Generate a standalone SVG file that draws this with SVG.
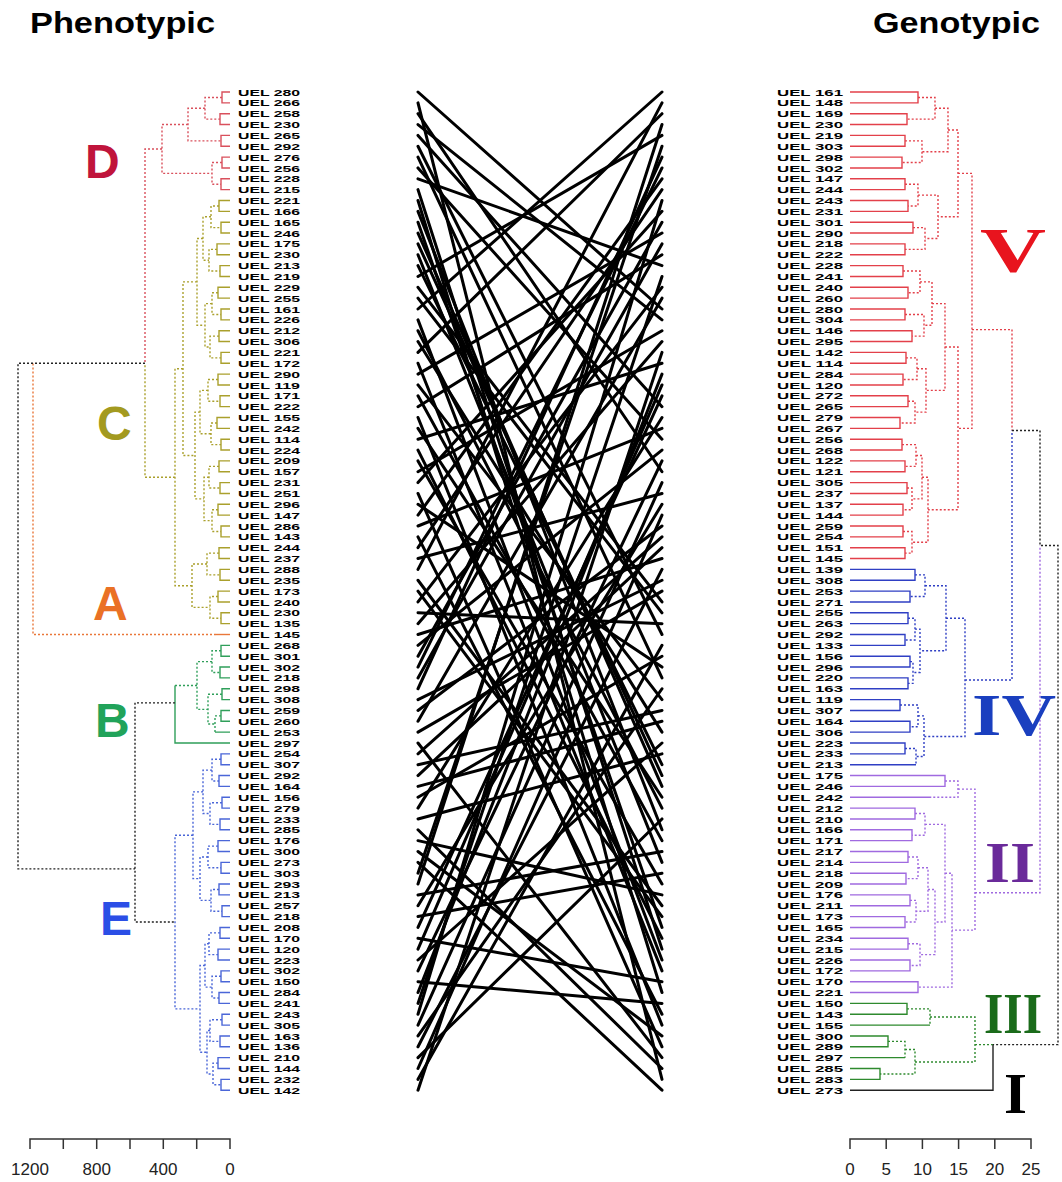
<svg xmlns="http://www.w3.org/2000/svg" width="1062" height="1182" viewBox="0 0 1062 1182">
<style>
.t{font-family:"Liberation Sans",Arial,sans-serif;font-weight:bold;font-size:30px;fill:#000}
.lb{font-family:"Liberation Sans",Arial,sans-serif;font-size:9.4px;fill:#000;font-weight:bold}
.re{text-anchor:end}
.cl{font-family:"Liberation Sans",Arial,sans-serif;font-weight:bold;font-size:48px}
.rn{font-family:"Liberation Serif","Times New Roman",serif;font-weight:bold}
.dg path{fill:none;vector-effect:non-scaling-stroke;stroke-width:1.4}
.dg path.dt{stroke-dasharray:2 2}
.mid line{stroke:#000;stroke-width:3;vector-effect:non-scaling-stroke;stroke-linecap:round}
.ax{stroke:#333;stroke-width:1.5;fill:none}
.an{font-family:"Liberation Sans",Arial,sans-serif;font-size:17px;fill:#222;text-anchor:middle}
.cD{stroke:#d9505c}.cC{stroke:#aaa02c}.cA{stroke:#e9773a}.cB{stroke:#2f9f5a}.cE{stroke:#4a66d8}.ck{stroke:#222}
.cV{stroke:#e3404a}.cIV{stroke:#2f3fc4}.cII{stroke:#a06ae0}.cIII{stroke:#2e8a2e}
</style>
<rect width="1062" height="1182" fill="#fff"/>
<g id="titles">
<text class="t" x="30" y="33" textLength="185" lengthAdjust="spacingAndGlyphs">Phenotypic</text>
<text class="t" x="873" y="33" textLength="167" lengthAdjust="spacingAndGlyphs">Genotypic</text>
</g>
<g id="left-dendrogram" class="dg" transform="translate(0 92) scale(1 10.85)">
<g id="cluster-D">
<path class="cD" d="M230 0H222V1H230M230 2H220V3H230M230 4H221V5H230M230 6H222V7H230M230 8H221V9H230"/>
<path class="cD dt" d="M222 0.5H205V2.5H220M205 1.5H188V4.5H221M222 6.5H212V8.5H221M188 3H162V7.5H212M162 5.25H145V25"/>
</g>
<g id="cluster-C">
<path class="cC" d="M230 10H219V11H230M230 12H221V13H230M230 14H217V15H230M230 16H220V17H230M230 18H218V19H230M230 20H221V21H230M230 22H219V23H230M230 24H221V25H230M230 26H218V27H230M230 28H220V29H230M230 30H217V31H230M230 32H221V33H230M230 34H219V35H230M230 36H220V37H230M230 38H218V39H230M230 40H221V41H230M230 42H219V43H230M230 44H220V45H230M230 46H218V47H230M230 48H221V49H230"/>
<path class="cC dt" d="M219 10.5H211V12.5H221M217 14.5H209V16.5H220M218 18.5H212V20.5H221M219 22.5H210V24.5H221M218 26.5H208V28.5H220M217 30.5H211V32.5H221M219 34.5H209V36.5H220M218 38.5H212V40.5H221M219 42.5H207V44.5H220M218 46.5H210V48.5H221M211 11.5H203V15.5H209M212 19.5H205V23.5H210M208 27.5H200V31.5H211M209 35.5H204V39.5H212M207 43.5H192V47.5H210M203 13.5H197V21.5H205M200 29.5H195V37.5H204M197 17.5H183V33.5H195M183 25.5H175V45.5H192M175 35.5H145V25"/>
</g>
<g id="cluster-A">
<path class="cA" d="M230 50H216"/>
<path class="cA dt" d="M216 50H33V25"/>
</g>
<g id="cluster-B">
<path class="cB" d="M230 51H221V52H230M230 53H220V54H230M230 55H222V56H230M230 57H221V58H230M230 59H215M175 54.7V60H230"/>
<path class="cB dt" d="M221 51.5H212V53.5H220M221 57.5H215V59M222 55.5H208V58.25H215M212 52.5H197V56.9H208M197 54.7H175"/>
</g>
<g id="cluster-E">
<path class="cE" d="M230 61H221V62H230M230 63H219V64H230M230 65H222V66H230M230 67H220V68H230M230 69H218V70H230M230 71H221V72H230M230 73H219V74H230M230 75H222V76H230M230 77H220V78H230M230 79H218V80H230M230 81H221V82H230M230 83H219V84H230M230 85H222V86H230M230 87H220V88H230M230 89H218V90H230M230 91H221V92H230"/>
<path class="cE dt" d="M221 61.5H212V63.5H219M222 65.5H210V67.5H220M218 69.5H208V71.5H221M219 73.5H211V75.5H222M220 77.5H209V79.5H218M221 81.5H212V83.5H219M222 85.5H210V87.5H220M218 89.5H213V91.5H221M212 62.5H203V66.5H210M208 70.5H200V74.5H211M209 78.5H205V82.5H212M210 86.5H207V90.5H213M203 64.5H193V72.5H200M205 80.5H200V88.5H207M193 68.5H175V84.5H200"/>
</g>
<g id="left-root">
<path class="ck dt" d="M145 25H18V71.6H135M175 56.3H135V76.5H175"/>
</g>
</g>
<g id="right-dendrogram" class="dg" transform="translate(0 92) scale(1 10.85)">
<g id="cluster-V">
<path class="cV" d="M850 0H918V1H850M850 2H907V3H850M850 4H905V5H850M850 6H902V7H850M850 8H905V9H850M850 10H908V11H850M850 12H913V13H850M850 14H905V15H850M850 16H903V17H850M850 18H908V19H850M850 20H905V21H850M850 22H912V23H850M850 24H906V25H850M850 26H903V27H850M850 28H908V29H850M850 30H900V31H850M850 32H902V33H850M850 34H905V35H850M850 36H907V37H850M850 38H903V39H850M850 40H903V41H850M850 42H905V43H850"/>
<path class="cV dt" d="M918 0.5H935V2.5H907M905 4.5H922V6.5H902M905 8.5H918V10.5H908M913 12.5H925V14.5H905M903 16.5H920V18.5H908M905 20.5H924V22.5H912M906 24.5H917V26.5H903M908 28.5H915V30.5H900M902 32.5H916V34.5H905M907 36.5H912V38.5H903M903 40.5H912V42.5H905M935 1.5H948V5.5H922M918 9.5H938V13.5H925M920 17.5H932V21.5H924M917 25.5H926V29.5H915M916 33.5H922V37.5H912M948 3.5H958V11.5H938M932 19.5H945V27.5H926M922 35.5H928V41.5H912M945 23.5H958V38.5H928M958 7.5H972V31H958M972 21.9H1012V31.2"/>
</g>
<g id="cluster-IV">
<path class="cIV" d="M850 44H915V45H850M850 46H910V47H850M850 48H908V49H850M850 50H905V51H850M850 52H910V53H850M850 54H908V55H850M850 56H900V57H850M850 58H910V59H850M850 60H905V61H850M850 62H916"/>
<path class="cIV dt" d="M915 44.5H925V46.5H910M908 48.5H915V50.5H905M910 52.5H913V54.5H908M915 49.5H920V53.5H913M900 56.5H918V58.5H910M905 60.5H916V62M918 57.5H924V61.25H916M925 45.5H946V51.5H920M946 48.5H965V59.4H924M965 54.2H1012V31.2"/>
</g>
<g id="cluster-II">
<path class="cII" d="M850 63H945V64H850M850 65H930M850 66H915V67H850M850 68H912V69H850M850 70H908V71H850M850 72H906V73H850M850 74H910V75H850M850 76H905V77H850M850 78H908V79H850M850 80H910V81H850M850 82H918V83H850"/>
<path class="cII dt" d="M945 63.5H958V65H930M915 66.5H925V68.5H912M908 70.5H918V72.5H906M910 74.5H916V76.5H905M908 78.5H920V80.5H910M918 71.5H928V75.5H916M928 73.5H935V79.5H920M925 67.5H945V76.5H935M945 72H952V82.5H918M958 64.25H975V77.25H952M975 73.8H1040V41.8"/>
</g>
<g id="cluster-III">
<path class="cIII" d="M850 84H907V85H850M850 86H930M850 87H888V88H850M850 89H905M850 90H880V91H850"/>
<path class="cIII dt" d="M907 84.5H930V86M888 87.5H905V89M905 88.25H915V90.5H880M930 85.25H975V89.4H915M975 87.8H993"/>
</g>
<g id="cluster-I">
<path class="ck" d="M850 92H993V87.8"/>
</g>
<g id="right-root">
<path class="ck dt" d="M1012 31.2H1040V41.8H1058V87.8H993"/>
</g>
</g>
<g id="cluster-labels">
<text class="cl" x="85" y="178" fill="#c0143c">D</text>
<text class="cl" x="97" y="440" fill="#a39a20">C</text>
<text class="cl" x="93" y="620" fill="#ea7125">A</text>
<text class="cl" x="95" y="737" fill="#21a35a">B</text>
<text class="cl" x="100" y="935" fill="#2b4ee6">E</text>
<text class="rn" x="980" y="272" font-size="64" fill="#e8141e" textLength="66" lengthAdjust="spacingAndGlyphs">V</text>
<text class="rn" x="972" y="735" font-size="60" fill="#1a3fbf" textLength="84" lengthAdjust="spacingAndGlyphs">IV</text>
<text class="rn" x="985" y="882" font-size="56" fill="#6a2a9a" textLength="50" lengthAdjust="spacingAndGlyphs">II</text>
<text class="rn" x="984" y="1033" font-size="57" fill="#1a6b1a" textLength="58" lengthAdjust="spacingAndGlyphs">III</text>
<text class="rn" x="1004" y="1113" font-size="57" fill="#000" textLength="23" lengthAdjust="spacingAndGlyphs">I</text>
</g>
<g id="left-labels">
<text class="lb" x="238" y="95.5" textLength="62" lengthAdjust="spacingAndGlyphs">UEL 280</text>
<text class="lb" x="238" y="106.4" textLength="62" lengthAdjust="spacingAndGlyphs">UEL 266</text>
<text class="lb" x="238" y="117.2" textLength="62" lengthAdjust="spacingAndGlyphs">UEL 258</text>
<text class="lb" x="238" y="128.1" textLength="62" lengthAdjust="spacingAndGlyphs">UEL 230</text>
<text class="lb" x="238" y="138.9" textLength="62" lengthAdjust="spacingAndGlyphs">UEL 265</text>
<text class="lb" x="238" y="149.8" textLength="62" lengthAdjust="spacingAndGlyphs">UEL 292</text>
<text class="lb" x="238" y="160.6" textLength="62" lengthAdjust="spacingAndGlyphs">UEL 276</text>
<text class="lb" x="238" y="171.5" textLength="62" lengthAdjust="spacingAndGlyphs">UEL 256</text>
<text class="lb" x="238" y="182.3" textLength="62" lengthAdjust="spacingAndGlyphs">UEL 228</text>
<text class="lb" x="238" y="193.2" textLength="62" lengthAdjust="spacingAndGlyphs">UEL 215</text>
<text class="lb" x="238" y="204" textLength="62" lengthAdjust="spacingAndGlyphs">UEL 221</text>
<text class="lb" x="238" y="214.9" textLength="62" lengthAdjust="spacingAndGlyphs">UEL 166</text>
<text class="lb" x="238" y="225.7" textLength="62" lengthAdjust="spacingAndGlyphs">UEL 165</text>
<text class="lb" x="238" y="236.6" textLength="62" lengthAdjust="spacingAndGlyphs">UEL 246</text>
<text class="lb" x="238" y="247.4" textLength="62" lengthAdjust="spacingAndGlyphs">UEL 175</text>
<text class="lb" x="238" y="258.3" textLength="62" lengthAdjust="spacingAndGlyphs">UEL 230</text>
<text class="lb" x="238" y="269.1" textLength="62" lengthAdjust="spacingAndGlyphs">UEL 213</text>
<text class="lb" x="238" y="280" textLength="62" lengthAdjust="spacingAndGlyphs">UEL 219</text>
<text class="lb" x="238" y="290.8" textLength="62" lengthAdjust="spacingAndGlyphs">UEL 229</text>
<text class="lb" x="238" y="301.7" textLength="62" lengthAdjust="spacingAndGlyphs">UEL 255</text>
<text class="lb" x="238" y="312.5" textLength="62" lengthAdjust="spacingAndGlyphs">UEL 161</text>
<text class="lb" x="238" y="323.4" textLength="62" lengthAdjust="spacingAndGlyphs">UEL 226</text>
<text class="lb" x="238" y="334.2" textLength="62" lengthAdjust="spacingAndGlyphs">UEL 212</text>
<text class="lb" x="238" y="345.1" textLength="62" lengthAdjust="spacingAndGlyphs">UEL 306</text>
<text class="lb" x="238" y="355.9" textLength="62" lengthAdjust="spacingAndGlyphs">UEL 221</text>
<text class="lb" x="238" y="366.8" textLength="62" lengthAdjust="spacingAndGlyphs">UEL 172</text>
<text class="lb" x="238" y="377.6" textLength="62" lengthAdjust="spacingAndGlyphs">UEL 290</text>
<text class="lb" x="238" y="388.5" textLength="62" lengthAdjust="spacingAndGlyphs">UEL 119</text>
<text class="lb" x="238" y="399.3" textLength="62" lengthAdjust="spacingAndGlyphs">UEL 171</text>
<text class="lb" x="238" y="410.2" textLength="62" lengthAdjust="spacingAndGlyphs">UEL 222</text>
<text class="lb" x="238" y="421" textLength="62" lengthAdjust="spacingAndGlyphs">UEL 155</text>
<text class="lb" x="238" y="431.9" textLength="62" lengthAdjust="spacingAndGlyphs">UEL 242</text>
<text class="lb" x="238" y="442.7" textLength="62" lengthAdjust="spacingAndGlyphs">UEL 114</text>
<text class="lb" x="238" y="453.6" textLength="62" lengthAdjust="spacingAndGlyphs">UEL 224</text>
<text class="lb" x="238" y="464.4" textLength="62" lengthAdjust="spacingAndGlyphs">UEL 209</text>
<text class="lb" x="238" y="475.3" textLength="62" lengthAdjust="spacingAndGlyphs">UEL 157</text>
<text class="lb" x="238" y="486.1" textLength="62" lengthAdjust="spacingAndGlyphs">UEL 231</text>
<text class="lb" x="238" y="497" textLength="62" lengthAdjust="spacingAndGlyphs">UEL 251</text>
<text class="lb" x="238" y="507.8" textLength="62" lengthAdjust="spacingAndGlyphs">UEL 296</text>
<text class="lb" x="238" y="518.7" textLength="62" lengthAdjust="spacingAndGlyphs">UEL 147</text>
<text class="lb" x="238" y="529.5" textLength="62" lengthAdjust="spacingAndGlyphs">UEL 286</text>
<text class="lb" x="238" y="540.4" textLength="62" lengthAdjust="spacingAndGlyphs">UEL 143</text>
<text class="lb" x="238" y="551.2" textLength="62" lengthAdjust="spacingAndGlyphs">UEL 244</text>
<text class="lb" x="238" y="562.1" textLength="62" lengthAdjust="spacingAndGlyphs">UEL 237</text>
<text class="lb" x="238" y="572.9" textLength="62" lengthAdjust="spacingAndGlyphs">UEL 288</text>
<text class="lb" x="238" y="583.8" textLength="62" lengthAdjust="spacingAndGlyphs">UEL 235</text>
<text class="lb" x="238" y="594.6" textLength="62" lengthAdjust="spacingAndGlyphs">UEL 173</text>
<text class="lb" x="238" y="605.5" textLength="62" lengthAdjust="spacingAndGlyphs">UEL 240</text>
<text class="lb" x="238" y="616.3" textLength="62" lengthAdjust="spacingAndGlyphs">UEL 230</text>
<text class="lb" x="238" y="627.2" textLength="62" lengthAdjust="spacingAndGlyphs">UEL 135</text>
<text class="lb" x="238" y="638" textLength="62" lengthAdjust="spacingAndGlyphs">UEL 145</text>
<text class="lb" x="238" y="648.9" textLength="62" lengthAdjust="spacingAndGlyphs">UEL 268</text>
<text class="lb" x="238" y="659.7" textLength="62" lengthAdjust="spacingAndGlyphs">UEL 301</text>
<text class="lb" x="238" y="670.6" textLength="62" lengthAdjust="spacingAndGlyphs">UEL 302</text>
<text class="lb" x="238" y="681.4" textLength="62" lengthAdjust="spacingAndGlyphs">UEL 218</text>
<text class="lb" x="238" y="692.3" textLength="62" lengthAdjust="spacingAndGlyphs">UEL 298</text>
<text class="lb" x="238" y="703.1" textLength="62" lengthAdjust="spacingAndGlyphs">UEL 308</text>
<text class="lb" x="238" y="714" textLength="62" lengthAdjust="spacingAndGlyphs">UEL 259</text>
<text class="lb" x="238" y="724.8" textLength="62" lengthAdjust="spacingAndGlyphs">UEL 260</text>
<text class="lb" x="238" y="735.7" textLength="62" lengthAdjust="spacingAndGlyphs">UEL 253</text>
<text class="lb" x="238" y="746.5" textLength="62" lengthAdjust="spacingAndGlyphs">UEL 297</text>
<text class="lb" x="238" y="757.4" textLength="62" lengthAdjust="spacingAndGlyphs">UEL 254</text>
<text class="lb" x="238" y="768.2" textLength="62" lengthAdjust="spacingAndGlyphs">UEL 307</text>
<text class="lb" x="238" y="779.1" textLength="62" lengthAdjust="spacingAndGlyphs">UEL 292</text>
<text class="lb" x="238" y="789.9" textLength="62" lengthAdjust="spacingAndGlyphs">UEL 164</text>
<text class="lb" x="238" y="800.8" textLength="62" lengthAdjust="spacingAndGlyphs">UEL 156</text>
<text class="lb" x="238" y="811.6" textLength="62" lengthAdjust="spacingAndGlyphs">UEL 279</text>
<text class="lb" x="238" y="822.5" textLength="62" lengthAdjust="spacingAndGlyphs">UEL 233</text>
<text class="lb" x="238" y="833.3" textLength="62" lengthAdjust="spacingAndGlyphs">UEL 285</text>
<text class="lb" x="238" y="844.2" textLength="62" lengthAdjust="spacingAndGlyphs">UEL 176</text>
<text class="lb" x="238" y="855" textLength="62" lengthAdjust="spacingAndGlyphs">UEL 300</text>
<text class="lb" x="238" y="865.9" textLength="62" lengthAdjust="spacingAndGlyphs">UEL 273</text>
<text class="lb" x="238" y="876.7" textLength="62" lengthAdjust="spacingAndGlyphs">UEL 303</text>
<text class="lb" x="238" y="887.6" textLength="62" lengthAdjust="spacingAndGlyphs">UEL 293</text>
<text class="lb" x="238" y="898.4" textLength="62" lengthAdjust="spacingAndGlyphs">UEL 213</text>
<text class="lb" x="238" y="909.3" textLength="62" lengthAdjust="spacingAndGlyphs">UEL 257</text>
<text class="lb" x="238" y="920.1" textLength="62" lengthAdjust="spacingAndGlyphs">UEL 218</text>
<text class="lb" x="238" y="931" textLength="62" lengthAdjust="spacingAndGlyphs">UEL 208</text>
<text class="lb" x="238" y="941.8" textLength="62" lengthAdjust="spacingAndGlyphs">UEL 170</text>
<text class="lb" x="238" y="952.7" textLength="62" lengthAdjust="spacingAndGlyphs">UEL 120</text>
<text class="lb" x="238" y="963.5" textLength="62" lengthAdjust="spacingAndGlyphs">UEL 223</text>
<text class="lb" x="238" y="974.4" textLength="62" lengthAdjust="spacingAndGlyphs">UEL 302</text>
<text class="lb" x="238" y="985.2" textLength="62" lengthAdjust="spacingAndGlyphs">UEL 150</text>
<text class="lb" x="238" y="996.1" textLength="62" lengthAdjust="spacingAndGlyphs">UEL 284</text>
<text class="lb" x="238" y="1006.9" textLength="62" lengthAdjust="spacingAndGlyphs">UEL 241</text>
<text class="lb" x="238" y="1017.8" textLength="62" lengthAdjust="spacingAndGlyphs">UEL 243</text>
<text class="lb" x="238" y="1028.6" textLength="62" lengthAdjust="spacingAndGlyphs">UEL 305</text>
<text class="lb" x="238" y="1039.5" textLength="62" lengthAdjust="spacingAndGlyphs">UEL 163</text>
<text class="lb" x="238" y="1050.3" textLength="62" lengthAdjust="spacingAndGlyphs">UEL 136</text>
<text class="lb" x="238" y="1061.2" textLength="62" lengthAdjust="spacingAndGlyphs">UEL 210</text>
<text class="lb" x="238" y="1072" textLength="62" lengthAdjust="spacingAndGlyphs">UEL 144</text>
<text class="lb" x="238" y="1082.9" textLength="62" lengthAdjust="spacingAndGlyphs">UEL 232</text>
<text class="lb" x="238" y="1093.7" textLength="62" lengthAdjust="spacingAndGlyphs">UEL 142</text>
</g>
<g id="right-labels">
<text class="lb re" x="843" y="95.5" textLength="66" lengthAdjust="spacingAndGlyphs">UEL 161</text>
<text class="lb re" x="843" y="106.4" textLength="66" lengthAdjust="spacingAndGlyphs">UEL 148</text>
<text class="lb re" x="843" y="117.2" textLength="66" lengthAdjust="spacingAndGlyphs">UEL 169</text>
<text class="lb re" x="843" y="128.1" textLength="66" lengthAdjust="spacingAndGlyphs">UEL 230</text>
<text class="lb re" x="843" y="138.9" textLength="66" lengthAdjust="spacingAndGlyphs">UEL 219</text>
<text class="lb re" x="843" y="149.8" textLength="66" lengthAdjust="spacingAndGlyphs">UEL 303</text>
<text class="lb re" x="843" y="160.6" textLength="66" lengthAdjust="spacingAndGlyphs">UEL 298</text>
<text class="lb re" x="843" y="171.5" textLength="66" lengthAdjust="spacingAndGlyphs">UEL 302</text>
<text class="lb re" x="843" y="182.3" textLength="66" lengthAdjust="spacingAndGlyphs">UEL 147</text>
<text class="lb re" x="843" y="193.2" textLength="66" lengthAdjust="spacingAndGlyphs">UEL 244</text>
<text class="lb re" x="843" y="204" textLength="66" lengthAdjust="spacingAndGlyphs">UEL 243</text>
<text class="lb re" x="843" y="214.9" textLength="66" lengthAdjust="spacingAndGlyphs">UEL 231</text>
<text class="lb re" x="843" y="225.7" textLength="66" lengthAdjust="spacingAndGlyphs">UEL 301</text>
<text class="lb re" x="843" y="236.6" textLength="66" lengthAdjust="spacingAndGlyphs">UEL 290</text>
<text class="lb re" x="843" y="247.4" textLength="66" lengthAdjust="spacingAndGlyphs">UEL 218</text>
<text class="lb re" x="843" y="258.3" textLength="66" lengthAdjust="spacingAndGlyphs">UEL 222</text>
<text class="lb re" x="843" y="269.1" textLength="66" lengthAdjust="spacingAndGlyphs">UEL 228</text>
<text class="lb re" x="843" y="280" textLength="66" lengthAdjust="spacingAndGlyphs">UEL 241</text>
<text class="lb re" x="843" y="290.8" textLength="66" lengthAdjust="spacingAndGlyphs">UEL 240</text>
<text class="lb re" x="843" y="301.7" textLength="66" lengthAdjust="spacingAndGlyphs">UEL 260</text>
<text class="lb re" x="843" y="312.5" textLength="66" lengthAdjust="spacingAndGlyphs">UEL 280</text>
<text class="lb re" x="843" y="323.4" textLength="66" lengthAdjust="spacingAndGlyphs">UEL 304</text>
<text class="lb re" x="843" y="334.2" textLength="66" lengthAdjust="spacingAndGlyphs">UEL 146</text>
<text class="lb re" x="843" y="345.1" textLength="66" lengthAdjust="spacingAndGlyphs">UEL 295</text>
<text class="lb re" x="843" y="355.9" textLength="66" lengthAdjust="spacingAndGlyphs">UEL 142</text>
<text class="lb re" x="843" y="366.8" textLength="66" lengthAdjust="spacingAndGlyphs">UEL 114</text>
<text class="lb re" x="843" y="377.6" textLength="66" lengthAdjust="spacingAndGlyphs">UEL 284</text>
<text class="lb re" x="843" y="388.5" textLength="66" lengthAdjust="spacingAndGlyphs">UEL 120</text>
<text class="lb re" x="843" y="399.3" textLength="66" lengthAdjust="spacingAndGlyphs">UEL 272</text>
<text class="lb re" x="843" y="410.2" textLength="66" lengthAdjust="spacingAndGlyphs">UEL 265</text>
<text class="lb re" x="843" y="421" textLength="66" lengthAdjust="spacingAndGlyphs">UEL 279</text>
<text class="lb re" x="843" y="431.9" textLength="66" lengthAdjust="spacingAndGlyphs">UEL 267</text>
<text class="lb re" x="843" y="442.7" textLength="66" lengthAdjust="spacingAndGlyphs">UEL 256</text>
<text class="lb re" x="843" y="453.6" textLength="66" lengthAdjust="spacingAndGlyphs">UEL 268</text>
<text class="lb re" x="843" y="464.4" textLength="66" lengthAdjust="spacingAndGlyphs">UEL 122</text>
<text class="lb re" x="843" y="475.3" textLength="66" lengthAdjust="spacingAndGlyphs">UEL 121</text>
<text class="lb re" x="843" y="486.1" textLength="66" lengthAdjust="spacingAndGlyphs">UEL 305</text>
<text class="lb re" x="843" y="497" textLength="66" lengthAdjust="spacingAndGlyphs">UEL 237</text>
<text class="lb re" x="843" y="507.8" textLength="66" lengthAdjust="spacingAndGlyphs">UEL 137</text>
<text class="lb re" x="843" y="518.7" textLength="66" lengthAdjust="spacingAndGlyphs">UEL 144</text>
<text class="lb re" x="843" y="529.5" textLength="66" lengthAdjust="spacingAndGlyphs">UEL 259</text>
<text class="lb re" x="843" y="540.4" textLength="66" lengthAdjust="spacingAndGlyphs">UEL 254</text>
<text class="lb re" x="843" y="551.2" textLength="66" lengthAdjust="spacingAndGlyphs">UEL 151</text>
<text class="lb re" x="843" y="562.1" textLength="66" lengthAdjust="spacingAndGlyphs">UEL 145</text>
<text class="lb re" x="843" y="572.9" textLength="66" lengthAdjust="spacingAndGlyphs">UEL 139</text>
<text class="lb re" x="843" y="583.8" textLength="66" lengthAdjust="spacingAndGlyphs">UEL 308</text>
<text class="lb re" x="843" y="594.6" textLength="66" lengthAdjust="spacingAndGlyphs">UEL 253</text>
<text class="lb re" x="843" y="605.5" textLength="66" lengthAdjust="spacingAndGlyphs">UEL 271</text>
<text class="lb re" x="843" y="616.3" textLength="66" lengthAdjust="spacingAndGlyphs">UEL 255</text>
<text class="lb re" x="843" y="627.2" textLength="66" lengthAdjust="spacingAndGlyphs">UEL 263</text>
<text class="lb re" x="843" y="638" textLength="66" lengthAdjust="spacingAndGlyphs">UEL 292</text>
<text class="lb re" x="843" y="648.9" textLength="66" lengthAdjust="spacingAndGlyphs">UEL 133</text>
<text class="lb re" x="843" y="659.7" textLength="66" lengthAdjust="spacingAndGlyphs">UEL 156</text>
<text class="lb re" x="843" y="670.6" textLength="66" lengthAdjust="spacingAndGlyphs">UEL 296</text>
<text class="lb re" x="843" y="681.4" textLength="66" lengthAdjust="spacingAndGlyphs">UEL 220</text>
<text class="lb re" x="843" y="692.3" textLength="66" lengthAdjust="spacingAndGlyphs">UEL 163</text>
<text class="lb re" x="843" y="703.1" textLength="66" lengthAdjust="spacingAndGlyphs">UEL 119</text>
<text class="lb re" x="843" y="714" textLength="66" lengthAdjust="spacingAndGlyphs">UEL 307</text>
<text class="lb re" x="843" y="724.8" textLength="66" lengthAdjust="spacingAndGlyphs">UEL 164</text>
<text class="lb re" x="843" y="735.7" textLength="66" lengthAdjust="spacingAndGlyphs">UEL 306</text>
<text class="lb re" x="843" y="746.5" textLength="66" lengthAdjust="spacingAndGlyphs">UEL 223</text>
<text class="lb re" x="843" y="757.4" textLength="66" lengthAdjust="spacingAndGlyphs">UEL 233</text>
<text class="lb re" x="843" y="768.2" textLength="66" lengthAdjust="spacingAndGlyphs">UEL 213</text>
<text class="lb re" x="843" y="779.1" textLength="66" lengthAdjust="spacingAndGlyphs">UEL 175</text>
<text class="lb re" x="843" y="789.9" textLength="66" lengthAdjust="spacingAndGlyphs">UEL 246</text>
<text class="lb re" x="843" y="800.8" textLength="66" lengthAdjust="spacingAndGlyphs">UEL 242</text>
<text class="lb re" x="843" y="811.6" textLength="66" lengthAdjust="spacingAndGlyphs">UEL 212</text>
<text class="lb re" x="843" y="822.5" textLength="66" lengthAdjust="spacingAndGlyphs">UEL 210</text>
<text class="lb re" x="843" y="833.3" textLength="66" lengthAdjust="spacingAndGlyphs">UEL 166</text>
<text class="lb re" x="843" y="844.2" textLength="66" lengthAdjust="spacingAndGlyphs">UEL 171</text>
<text class="lb re" x="843" y="855" textLength="66" lengthAdjust="spacingAndGlyphs">UEL 217</text>
<text class="lb re" x="843" y="865.9" textLength="66" lengthAdjust="spacingAndGlyphs">UEL 214</text>
<text class="lb re" x="843" y="876.7" textLength="66" lengthAdjust="spacingAndGlyphs">UEL 218</text>
<text class="lb re" x="843" y="887.6" textLength="66" lengthAdjust="spacingAndGlyphs">UEL 209</text>
<text class="lb re" x="843" y="898.4" textLength="66" lengthAdjust="spacingAndGlyphs">UEL 176</text>
<text class="lb re" x="843" y="909.3" textLength="66" lengthAdjust="spacingAndGlyphs">UEL 211</text>
<text class="lb re" x="843" y="920.1" textLength="66" lengthAdjust="spacingAndGlyphs">UEL 173</text>
<text class="lb re" x="843" y="931" textLength="66" lengthAdjust="spacingAndGlyphs">UEL 165</text>
<text class="lb re" x="843" y="941.8" textLength="66" lengthAdjust="spacingAndGlyphs">UEL 234</text>
<text class="lb re" x="843" y="952.7" textLength="66" lengthAdjust="spacingAndGlyphs">UEL 215</text>
<text class="lb re" x="843" y="963.5" textLength="66" lengthAdjust="spacingAndGlyphs">UEL 226</text>
<text class="lb re" x="843" y="974.4" textLength="66" lengthAdjust="spacingAndGlyphs">UEL 172</text>
<text class="lb re" x="843" y="985.2" textLength="66" lengthAdjust="spacingAndGlyphs">UEL 170</text>
<text class="lb re" x="843" y="996.1" textLength="66" lengthAdjust="spacingAndGlyphs">UEL 221</text>
<text class="lb re" x="843" y="1006.9" textLength="66" lengthAdjust="spacingAndGlyphs">UEL 150</text>
<text class="lb re" x="843" y="1017.8" textLength="66" lengthAdjust="spacingAndGlyphs">UEL 143</text>
<text class="lb re" x="843" y="1028.6" textLength="66" lengthAdjust="spacingAndGlyphs">UEL 155</text>
<text class="lb re" x="843" y="1039.5" textLength="66" lengthAdjust="spacingAndGlyphs">UEL 300</text>
<text class="lb re" x="843" y="1050.3" textLength="66" lengthAdjust="spacingAndGlyphs">UEL 289</text>
<text class="lb re" x="843" y="1061.2" textLength="66" lengthAdjust="spacingAndGlyphs">UEL 297</text>
<text class="lb re" x="843" y="1072" textLength="66" lengthAdjust="spacingAndGlyphs">UEL 285</text>
<text class="lb re" x="843" y="1082.9" textLength="66" lengthAdjust="spacingAndGlyphs">UEL 283</text>
<text class="lb re" x="843" y="1093.7" textLength="66" lengthAdjust="spacingAndGlyphs">UEL 273</text>
</g>
<g id="connectors" class="mid" transform="translate(0 92) scale(1 10.85)">
<line x1="418" y1="0" x2="662" y2="20"/><line x1="418" y1="1" x2="662" y2="91"/><line x1="418" y1="2" x2="662" y2="35"/><line x1="418" y1="3" x2="662" y2="21"/><line x1="418" y1="4" x2="662" y2="29"/><line x1="418" y1="5" x2="662" y2="50"/><line x1="418" y1="6" x2="662" y2="54"/><line x1="418" y1="7" x2="662" y2="32"/><line x1="418" y1="8" x2="662" y2="16"/><line x1="418" y1="9" x2="662" y2="79"/>
<line x1="418" y1="10" x2="662" y2="83"/><line x1="418" y1="11" x2="662" y2="68"/><line x1="418" y1="12" x2="662" y2="77"/><line x1="418" y1="13" x2="662" y2="64"/><line x1="418" y1="14" x2="662" y2="63"/><line x1="418" y1="15" x2="662" y2="71"/><line x1="418" y1="16" x2="662" y2="62"/><line x1="418" y1="17" x2="662" y2="4"/><line x1="418" y1="18" x2="662" y2="47"/><line x1="418" y1="19" x2="662" y2="48"/>
<line x1="418" y1="20" x2="662" y2="0"/><line x1="418" y1="21" x2="662" y2="80"/><line x1="418" y1="22" x2="662" y2="66"/><line x1="418" y1="23" x2="662" y2="59"/><line x1="418" y1="24" x2="662" y2="2"/><line x1="418" y1="25" x2="662" y2="81"/><line x1="418" y1="26" x2="662" y2="13"/><line x1="418" y1="27" x2="662" y2="56"/><line x1="418" y1="28" x2="662" y2="69"/><line x1="418" y1="29" x2="662" y2="15"/>
<line x1="418" y1="30" x2="662" y2="86"/><line x1="418" y1="31" x2="662" y2="65"/><line x1="418" y1="32" x2="662" y2="25"/><line x1="418" y1="33" x2="662" y2="78"/><line x1="418" y1="34" x2="662" y2="73"/><line x1="418" y1="35" x2="662" y2="22"/><line x1="418" y1="36" x2="662" y2="11"/><line x1="418" y1="37" x2="662" y2="88"/><line x1="418" y1="38" x2="662" y2="53"/><line x1="418" y1="39" x2="662" y2="8"/>
<line x1="418" y1="40" x2="662" y2="31"/><line x1="418" y1="41" x2="662" y2="85"/><line x1="418" y1="42" x2="662" y2="9"/><line x1="418" y1="43" x2="662" y2="37"/><line x1="418" y1="44" x2="662" y2="1"/><line x1="418" y1="45" x2="662" y2="75"/><line x1="418" y1="46" x2="662" y2="76"/><line x1="418" y1="47" x2="662" y2="18"/><line x1="418" y1="48" x2="662" y2="49"/><line x1="418" y1="49" x2="662" y2="23"/>
<line x1="418" y1="50" x2="662" y2="43"/><line x1="418" y1="51" x2="662" y2="33"/><line x1="418" y1="52" x2="662" y2="12"/><line x1="418" y1="53" x2="662" y2="7"/><line x1="418" y1="54" x2="662" y2="14"/><line x1="418" y1="55" x2="662" y2="6"/><line x1="418" y1="56" x2="662" y2="45"/><line x1="418" y1="57" x2="662" y2="40"/><line x1="418" y1="58" x2="662" y2="19"/><line x1="418" y1="59" x2="662" y2="46"/>
<line x1="418" y1="60" x2="662" y2="89"/><line x1="418" y1="61" x2="662" y2="41"/><line x1="418" y1="62" x2="662" y2="57"/><line x1="418" y1="63" x2="662" y2="42"/><line x1="418" y1="64" x2="662" y2="58"/><line x1="418" y1="65" x2="662" y2="52"/><line x1="418" y1="66" x2="662" y2="30"/><line x1="418" y1="67" x2="662" y2="61"/><line x1="418" y1="68" x2="662" y2="90"/><line x1="418" y1="69" x2="662" y2="74"/>
<line x1="418" y1="70" x2="662" y2="87"/><line x1="418" y1="71" x2="662" y2="92"/><line x1="418" y1="72" x2="662" y2="5"/><line x1="418" y1="73" x2="662" y2="3"/><line x1="418" y1="74" x2="662" y2="70"/><line x1="418" y1="75" x2="662" y2="38"/><line x1="418" y1="76" x2="662" y2="72"/><line x1="418" y1="77" x2="662" y2="28"/><line x1="418" y1="78" x2="662" y2="82"/><line x1="418" y1="79" x2="662" y2="27"/>
<line x1="418" y1="80" x2="662" y2="60"/><line x1="418" y1="81" x2="662" y2="34"/><line x1="418" y1="82" x2="662" y2="84"/><line x1="418" y1="83" x2="662" y2="26"/><line x1="418" y1="84" x2="662" y2="17"/><line x1="418" y1="85" x2="662" y2="10"/><line x1="418" y1="86" x2="662" y2="36"/><line x1="418" y1="87" x2="662" y2="55"/><line x1="418" y1="88" x2="662" y2="44"/><line x1="418" y1="89" x2="662" y2="67"/>
<line x1="418" y1="90" x2="662" y2="39"/><line x1="418" y1="91" x2="662" y2="51"/><line x1="418" y1="92" x2="662" y2="24"/>
</g>
<g id="axis-left">
<path class="ax" d="M30 1149V1139H230V1149M63.3 1139V1149M96.7 1139V1149M130 1139V1149M163.3 1139V1149M196.7 1139V1149"/>
<text class="an" x="30" y="1175">1200</text>
<text class="an" x="96.7" y="1175">800</text>
<text class="an" x="163.3" y="1175">400</text>
<text class="an" x="230" y="1175">0</text>
</g>
<g id="axis-right">
<path class="ax" d="M850 1149V1139H1031V1149M886.2 1139V1149M922.4 1139V1149M958.6 1139V1149M994.8 1139V1149"/>
<text class="an" x="850" y="1175">0</text>
<text class="an" x="886.2" y="1175">5</text>
<text class="an" x="922.4" y="1175">10</text>
<text class="an" x="958.6" y="1175">15</text>
<text class="an" x="994.8" y="1175">20</text>
<text class="an" x="1031" y="1175">25</text>
</g>
</svg>
